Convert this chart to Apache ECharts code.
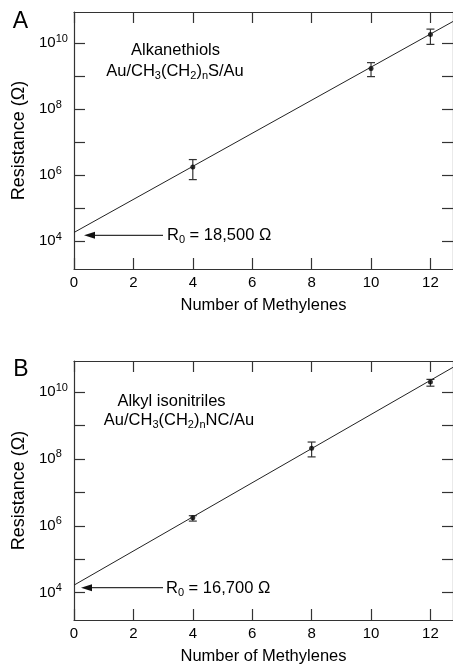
<!DOCTYPE html>
<html lang="en">
<head>
    <meta charset="UTF-8"/>
    <title>Resistance vs methylenes</title>
    <script src="https://cdn.jsdelivr.net/npm/echarts@6/dist/echarts.min.js"></script>
</head>
<body style="margin:0">

<div id="main" style="width: 453px;height:666px;"></div>

<script type="text/javascript">
    // panel A - alkanethiols
    var nA = [4, 10, 12];
    var resA = [1.78e6, 1.74e9, 1.86e10];
    var resALow = [7.4e5, 9.8e8, 9.3e9];
    var resAHigh = [3.0e6, 2.6e9, 2.7e10];
    var fitA = [[0, 18500], [12.76, 4.6e10]];

    // panel B - alkyl isonitriles
    var nB = [4, 8, 12];
    var resB = [1.74e6, 2.1e8, 2.0e10];
    var resBLow = [1.38e6, 1.15e8, 1.5e10];
    var resBHigh = [2.0e6, 3.2e8, 2.4e10];
    var fitB = [[0, 16700], [12.76, 5.5e10]];

    var xTicks = [0, 2, 4, 6, 8, 10, 12];
    var yTickExp = [4, 5, 6, 7, 8, 9, 10];
    var yLabelExp = [4, 6, 8, 10];

    var FONT = '"Liberation Sans", Arial, Helvetica, sans-serif';
    var AXIS_COLOR = '#333';

    var lg = function (v) { return Math.log10(v); };

    function points(xs, ys) {
        return xs.map(function (x, i) { return [x, lg(ys[i])]; });
    }
    function bars(xs, lo, hi) {
        return xs.map(function (x, i) { return [x, lg(lo[i]), lg(hi[i])]; });
    }
    function fitLine(f) {
        return f.map(function (p) { return [p[0], lg(p[1])]; });
    }

    function errRender(params, api) {
        var x = api.value(0);
        var top = api.coord([x, api.value(2)]);
        var bot = api.coord([x, api.value(1)]);
        var w = 4;
        var st = { stroke: '#333', lineWidth: 1.2 };
        return {
            type: 'group',
            children: [
                { type: 'line', shape: { x1: top[0], y1: top[1], x2: bot[0], y2: bot[1] }, style: st },
                { type: 'line', shape: { x1: top[0] - w, y1: top[1], x2: top[0] + w, y2: top[1] }, style: st },
                { type: 'line', shape: { x1: bot[0] - w, y1: bot[1], x2: bot[0] + w, y2: bot[1] }, style: st }
            ]
        };
    }

    function xAxis(grid, pos) {
        var main = pos === 'bottom';
        return {
            type: 'value', gridIndex: grid, position: pos,
            min: 0, max: 12.76,
            name: main ? 'Number of Methylenes' : '',
            nameLocation: 'middle', nameGap: 28,
            nameTextStyle: { fontFamily: FONT, fontSize: 16.5, color: '#000' },
            axisLine: { show: true, onZero: false, lineStyle: { color: AXIS_COLOR, width: 1.2 } },
            axisTick: { show: true, inside: true, length: 11, customValues: xTicks,
                lineStyle: { color: AXIS_COLOR, width: 1.2 } },
            axisLabel: { show: main, customValues: xTicks, margin: 6,
                fontFamily: FONT, fontSize: 15, color: '#000' },
            splitLine: { show: false }
        };
    }

    function yAxis(grid, pos, min, max) {
        var main = pos === 'left';
        return {
            type: 'value', gridIndex: grid, position: pos,
            min: min, max: max,
            name: main ? 'Resistance (\u03A9)' : '',
            nameLocation: 'middle', nameGap: 40,
            nameTextStyle: { fontFamily: FONT, fontSize: 18, color: '#000' },
            axisLine: { show: true, onZero: false, lineStyle: { color: AXIS_COLOR, width: 1.2 } },
            axisTick: { show: true, inside: true, length: 11, customValues: yTickExp,
                lineStyle: { color: AXIS_COLOR, width: 1.2 } },
            axisLabel: {
                show: main, customValues: yLabelExp, margin: 35, align: 'left',
                fontFamily: FONT, fontSize: 15, color: '#000', lineHeight: 15,
                formatter: function (v) { return '10{sup|' + v + '}'; },
                rich: { sup: { fontFamily: FONT, fontSize: 11, lineHeight: 11, color: '#000', padding: [0, 0, 9, 0] } }
            },
            splitLine: { show: false }
        };
    }

    var subRich = {
        sub: { fontFamily: FONT, fontSize: 11, lineHeight: 11, fill: '#000', padding: [10, 0, 0, 0] }
    };

    function label(text, x, y, size) {
        return {
            type: 'text', x: x, y: y,
            style: {
                text: text, fill: '#000', textAlign: 'center', textVerticalAlign: 'middle',
                font: size + 'px ' + FONT, rich: subRich
            }
        };
    }
    function leftLabel(text, x, y) {
        return {
            type: 'text', x: x, y: y,
            style: {
                text: text, fill: '#000', textAlign: 'left', textVerticalAlign: 'middle',
                font: '16.5px ' + FONT, rich: subRich
            }
        };
    }
    function arrow(x1, x2, y) {
        return [
            { type: 'line', shape: { x1: x1, y1: y, x2: x2 + 9, y2: y }, style: { stroke: '#333', lineWidth: 1.2 } },
            { type: 'polygon', shape: { points: [[x2, y], [x2 + 11, y - 3.5], [x2 + 11, y + 3.5]] }, style: { fill: '#111' } }
        ];
    }

    var myChart = echarts.init(document.getElementById('main'));

    var option = {
        animation: false,
        backgroundColor: '#fff',
        grid: [
            { left: 74, top: 12, width: 380, height: 257 },
            { left: 74, top: 361, width: 380, height: 261 }
        ],
        xAxis: [xAxis(0, 'bottom'), xAxis(0, 'top'), xAxis(1, 'bottom'), xAxis(1, 'top')],
        yAxis: [yAxis(0, 'left', 3.16, 10.95), yAxis(0, 'right', 3.16, 10.95),
                yAxis(1, 'left', 3.18, 10.93), yAxis(1, 'right', 3.18, 10.93)],
        series: [
            { type: 'line', xAxisIndex: 0, yAxisIndex: 0, data: fitLine(fitA), symbol: 'none',
              lineStyle: { color: '#222', width: 1 }, clip: true, silent: true },
            { type: 'custom', xAxisIndex: 0, yAxisIndex: 0, data: bars(nA, resALow, resAHigh),
              renderItem: errRender, encode: { x: 0, y: [1, 2] } },
            { type: 'scatter', xAxisIndex: 0, yAxisIndex: 0, data: points(nA, resA),
              symbolSize: 5, itemStyle: { color: '#000' } },

            { type: 'line', xAxisIndex: 2, yAxisIndex: 2, data: fitLine(fitB), symbol: 'none',
              lineStyle: { color: '#222', width: 1 }, clip: true, silent: true },
            { type: 'custom', xAxisIndex: 2, yAxisIndex: 2, data: bars(nB, resBLow, resBHigh),
              renderItem: errRender, encode: { x: 0, y: [1, 2] } },
            { type: 'scatter', xAxisIndex: 2, yAxisIndex: 2, data: points(nB, resB),
              symbolSize: 5, itemStyle: { color: '#000' } }
        ],
        graphic: [
            label('A', 20.5, 22, 23),
            label('B', 21, 370, 23),
            label('Alkanethiols', 175.5, 50, 16.5),
            label('Au/CH{sub|3}(CH{sub|2}){sub|n}S/Au', 175, 71, 16.5),
            label('Alkyl isonitriles', 171.5, 401.5, 16.5),
            label('Au/CH{sub|3}(CH{sub|2}){sub|n}NC/Au', 179, 420, 16.5),
            leftLabel('R{sub|0} = 18,500 \u03A9', 167, 235),
            leftLabel('R{sub|0} = 16,700 \u03A9', 166, 588)
        ].concat(arrow(163, 84, 235.3), arrow(163, 81, 587.7))
    };

    myChart.setOption(option);
</script>
</body>
</html>
